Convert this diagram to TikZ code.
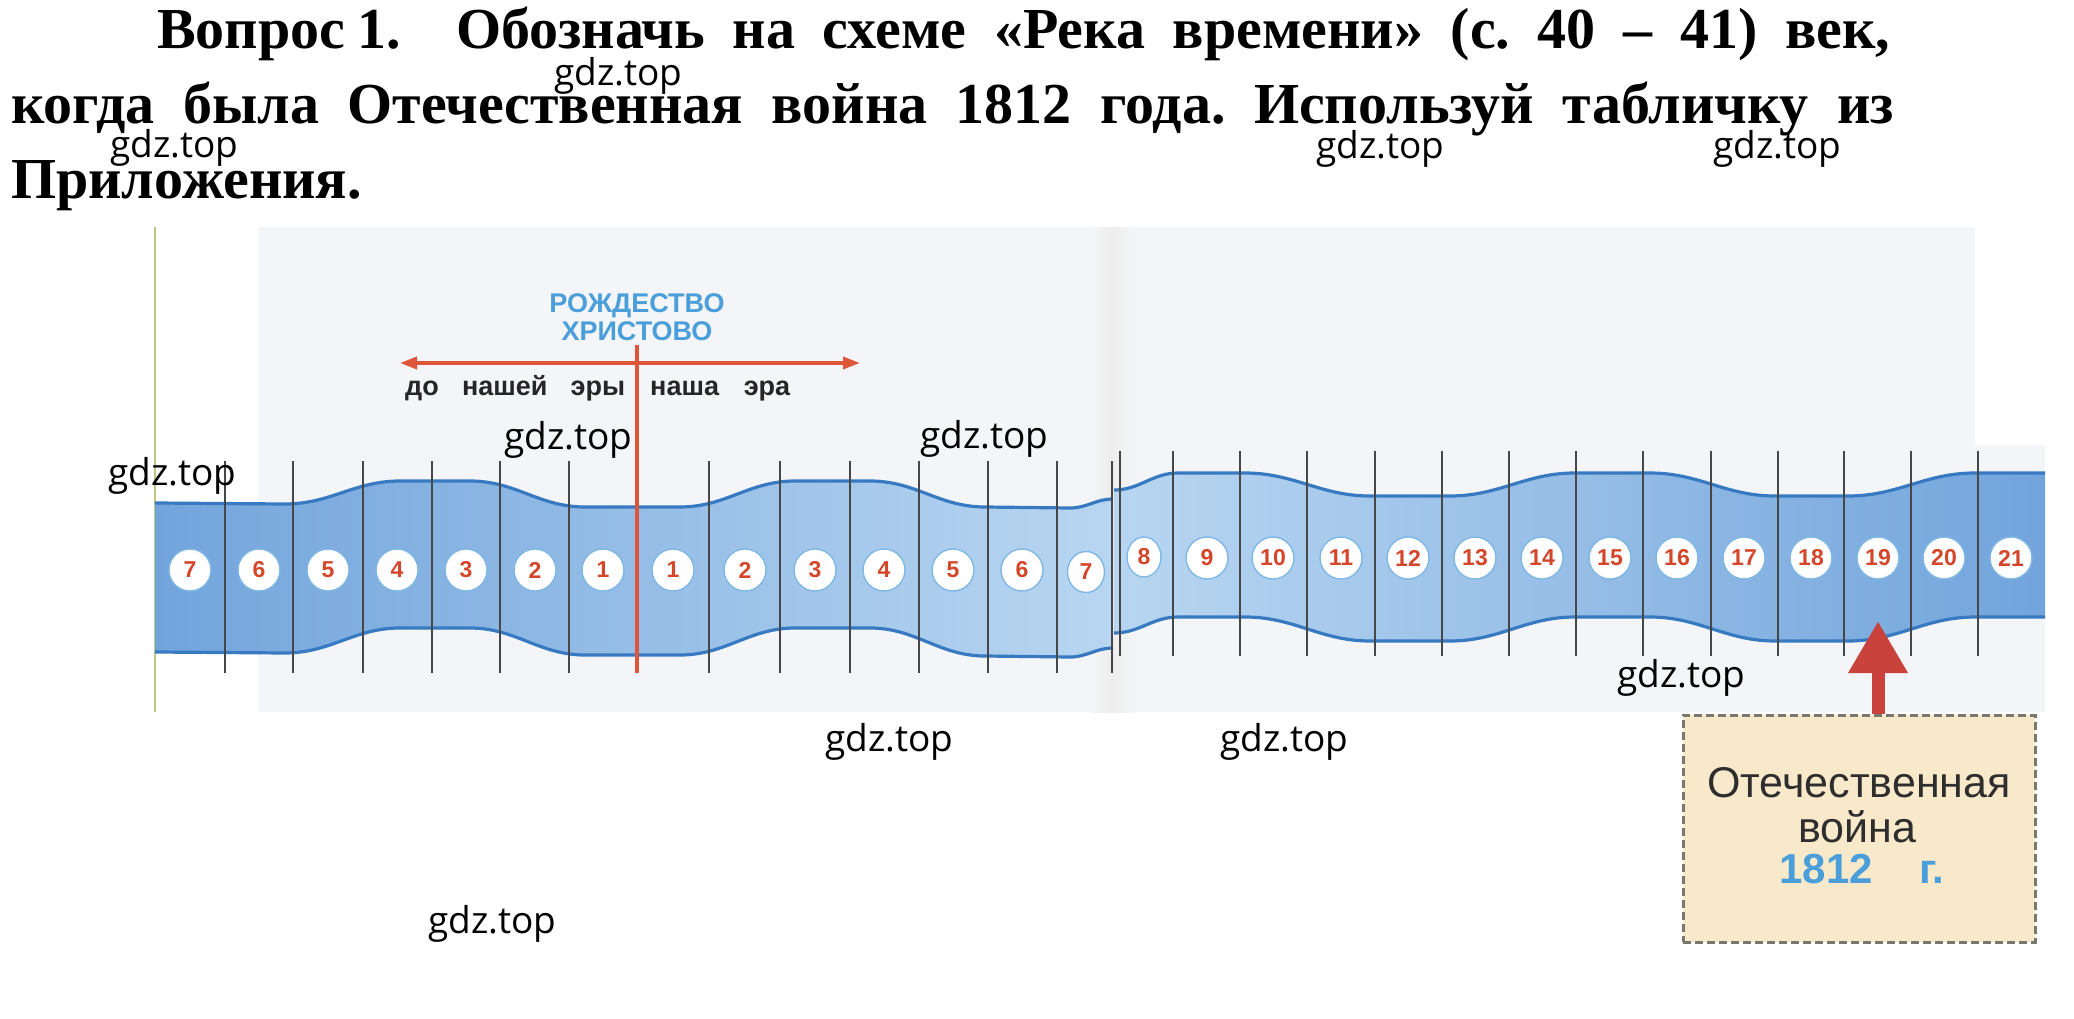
\documentclass[tikz,border=0pt]{standalone}
\usepackage{fontspec}
\setmainfont{Liberation Serif}
\newfontfamily\arialf{Liberation Sans}
\newfontfamily\wmfont{Open Sans}
\usetikzlibrary{arrows.meta,shapes.geometric}
\definecolor{bandedge}{RGB}{55,122,194}
\definecolor{banddark}{RGB}{114,164,220}
\definecolor{bandlight}{RGB}{184,214,241}
\definecolor{numred}{RGB}{212,70,42}
\definecolor{crossred}{RGB}{222,86,58}
\definecolor{titleblue}{RGB}{74,158,218}
\definecolor{photobg}{RGB}{244,245,248}
\definecolor{boxfill}{RGB}{248,233,203}
\definecolor{boxline}{RGB}{122,120,110}
\definecolor{arrowred}{RGB}{201,66,60}
\definecolor{ringblue}{RGB}{128,184,228}
\definecolor{greenline}{RGB}{190,200,128}
\definecolor{eratext}{RGB}{38,38,38}
\tikzset{
  titletext/.style={inner sep=0pt, anchor=base west, font=\frenchspacing\bfseries\fontsize{58pt}{64pt}\selectfont},
  wmark/.style={inner sep=0pt, anchor=base west, font=\wmfont\fontsize{37pt}{40pt}\selectfont},
  edgeline/.style={draw=bandedge, line width=3.2pt},
  vline/.style={draw=black!72, line width=1.8pt},
  cent/.style={ellipse, fill=white, draw=ringblue, line width=1.4pt, minimum width=42pt, minimum height=42pt, inner sep=0pt,
    text=numred, font=\arialf\bfseries\fontsize{23pt}{23pt}\selectfont},
  crossline/.style={draw=crossred, line width=3.5pt},
  crossarrow/.style={draw=crossred, line width=3.5pt, {Triangle[length=17pt,width=12pt]}-{Triangle[length=17pt,width=12pt]}},
  christtext/.style={inner sep=0pt, anchor=base, text=titleblue, font=\arialf\bfseries\fontsize{27pt}{27pt}\selectfont},
  eralabel/.style={inner sep=0pt, anchor=base west, text=eratext, font=\arialf\bfseries\fontsize{27pt}{27pt}\selectfont},
  warbox/.style={rectangle, fill=boxfill, draw=boxline, line width=3pt, dash pattern=on 8pt off 4pt, minimum width=352pt, minimum height=227pt, inner sep=0pt},
  boxtext/.style={inner sep=0pt, anchor=base, text=black!82, font=\arialf\fontsize{43pt}{43pt}\selectfont},
  yeartext/.style={inner sep=0pt, anchor=base, text=titleblue, font=\arialf\bfseries\fontsize{42pt}{42pt}\selectfont},
  bigarrow/.style={draw=arrowred, line width=13pt, -{Triangle[length=52pt,width=56pt]}},
}
\begin{document}
\begin{tikzpicture}[x=1pt,y=-1pt]
\useasboundingbox (0,0) rectangle (2074,1019);
\fill[white] (0,0) rectangle (2074,1019);

% photo background
\fill[photobg] (258,227) rectangle (2045,712);
\fill[white] (1975,227) rectangle (2045,445);
\shade[left color=photobg, right color=black!7] (1090,227) rectangle (1112,712);
\shade[left color=black!7, right color=photobg] (1112,227) rectangle (1135,712);
\draw[greenline, line width=2.5pt] (155,227) -- (155,712);

% title
\node[titletext] (t1) at (157,49) {\makebox[1733pt][s]{Вопрос\kern12pt1.\ \ Обозначь на схеме «Река времени» (с. 40 – 41) век,}};
\node[titletext] (t2) at (11,124) {\makebox[1883pt][s]{когда была Отечественная война 1812 года. Используй табличку из}};
\node[titletext] (t3) at (11,199) {Приложения.};

% left band
\shade[left color=banddark, right color=bandlight]
  (155,503) -- (285,504) to[out=0,in=180] (400,481) -- (470,481) to[out=0,in=180] (585,507) -- (680,507)
  to[out=0,in=180] (795,481) -- (870,481) to[out=0,in=180] (985,507) -- (1070,508) to[out=0,in=180] (1113,499)
  -- (1113,648) to[out=180,in=0] (1070,657) -- (985,656) to[out=180,in=0] (870,628) -- (795,628)
  to[out=180,in=0] (680,655) -- (585,655) to[out=180,in=0] (470,628) -- (400,628) to[out=180,in=0] (285,653) -- (155,652) -- cycle;
\draw[edgeline] (155,503) -- (285,504) to[out=0,in=180] (400,481) -- (470,481) to[out=0,in=180] (585,507) -- (680,507)
  to[out=0,in=180] (795,481) -- (870,481) to[out=0,in=180] (985,507) -- (1070,508) to[out=0,in=180] (1113,499);
\draw[edgeline] (155,652) -- (285,653) to[out=0,in=180] (400,628) -- (470,628) to[out=0,in=180] (585,655) -- (680,655)
  to[out=0,in=180] (795,628) -- (870,628) to[out=0,in=180] (985,656) -- (1070,657) to[out=0,in=180] (1113,648);

% right band
\shade[left color=bandlight, right color=banddark]
  (1114,490) to[out=0,in=180] (1178,473) -- (1245,473) to[out=0,in=180] (1370,496) -- (1450,496)
  to[out=0,in=180] (1575,473) -- (1650,473) to[out=0,in=180] (1775,496) -- (1848,496) to[out=0,in=180] (1975,473) -- (2045,473)
  -- (2045,617) -- (1975,617) to[out=180,in=0] (1848,641) -- (1775,641) to[out=180,in=0] (1650,617) -- (1575,617)
  to[out=180,in=0] (1450,641) -- (1370,641) to[out=180,in=0] (1245,617) -- (1178,617) to[out=180,in=0] (1114,633) -- cycle;
\draw[edgeline] (1114,490) to[out=0,in=180] (1178,473) -- (1245,473) to[out=0,in=180] (1370,496) -- (1450,496)
  to[out=0,in=180] (1575,473) -- (1650,473) to[out=0,in=180] (1775,496) -- (1848,496) to[out=0,in=180] (1975,473) -- (2045,473);
\draw[edgeline] (1114,633) to[out=0,in=180] (1178,617) -- (1245,617) to[out=0,in=180] (1370,641) -- (1450,641)
  to[out=0,in=180] (1575,617) -- (1650,617) to[out=0,in=180] (1775,641) -- (1848,641) to[out=0,in=180] (1975,617) -- (2045,617);

% century dividers
\foreach \x in {225,293,363,432,500,569,709,780,850,919,988,1057,1112}
  \draw[vline] (\x,461) -- (\x,673);
\foreach \x in {1120,1173,1240,1307,1375,1442,1509,1576,1643,1711,1778,1844,1911,1978}
  \draw[vline] (\x,451) -- (\x,656);

% Christ line and era arrow
\draw[crossline] (637,345) -- (637,673);
\coordinate (eraL) at (400,363);
\coordinate (eraR) at (860,363);
\draw[crossarrow] (eraL) -- (eraR);
\node[christtext] (rozh) at (637,312) {РОЖДЕСТВО};
\node[christtext] (hrist) at (637,340) {ХРИСТОВО};
\node[eralabel] (bc) at (405,395) {\makebox[220pt][s]{до нашей эры}};
\node[eralabel] (ad) at (650,395) {\makebox[140pt][s]{наша эра}};

% century circles
\foreach \n/\x [count=\i] in {7/190,6/259,5/328,4/397,3/466,2/535,1/603,1/673,2/745,3/815,4/884,5/953,6/1022}
  \node[cent] (L\i) at (\x,570) {\n};
\node[cent, minimum width=37pt, minimum height=41pt] (L14) at (1086,572) {7};
\node[cent, minimum width=34pt, minimum height=40pt] (R8) at (1144,557) {8};
\foreach \n/\x in {9/1207,10/1273,11/1341,12/1408,13/1475,14/1542,15/1610,16/1677,17/1744,18/1811,19/1878,20/1944,21/2011}
  \node[cent] (R\n) at (\x,558) {\n};

% war box and arrow
\node[warbox] (war) at (1859,828.5) {};
\node[boxtext] (wt1) at (1859,797) {Отечественная};
\node[boxtext] (wt2) at (1857,842) {война};
\node[yeartext] (wt3) at (1862,883) {\makebox[165pt][s]{1812 г.}};
\coordinate (tip19) at (1878,621);
\draw[bigarrow] (war.north -| tip19) -- (tip19);

% watermarks
\node[wmark] (w1) at (554,86) {gdz.top};
\node[wmark] (w2) at (110,158) {gdz.top};
\node[wmark] (w3) at (1316,159) {gdz.top};
\node[wmark] (w4) at (1713,159) {gdz.top};
\node[wmark] (w5) at (108,485) {gdz.top};
\node[wmark] (w6) at (504,449) {gdz.top};
\node[wmark] (w7) at (920,448) {gdz.top};
\node[wmark] (w8) at (825,751) {gdz.top};
\node[wmark] (w9) at (1220,751) {gdz.top};
\node[wmark] (w10) at (1617,687) {gdz.top};
\node[wmark] (w11) at (428,933) {gdz.top};
\end{tikzpicture}
\end{document}
